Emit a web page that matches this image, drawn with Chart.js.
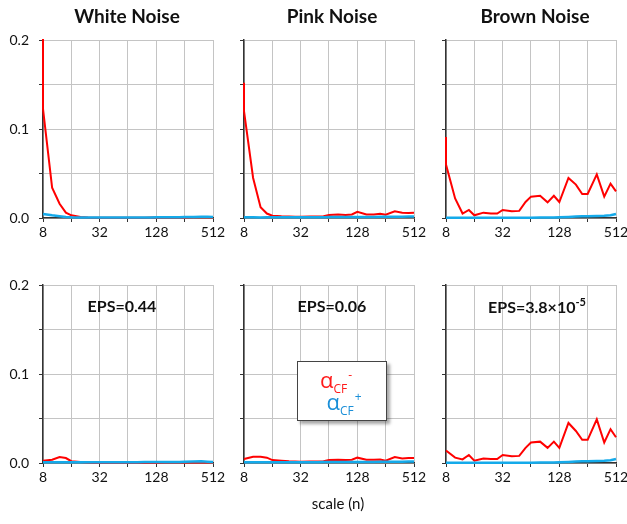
<!DOCTYPE html>
<html>
<head>
<meta charset="utf-8">
<script src="https://cdn.jsdelivr.net/npm/chart.js@4/dist/chart.umd.min.js"></script>
<style>
  body { margin: 0; background: #fff; }
  #wrap { position: relative; width: 627px; height: 524px; overflow: hidden; font-family: Lato, "Open Sans", sans-serif; color: #111; }
  canvas { position: absolute; }
  .title { position: absolute; top: 4px; width: 200px; margin-left: -100px; text-align: center; font-weight: bold; font-size: 19px; }
  .eps { position: absolute; top: 296px; width: 160px; margin-left: -80px; text-align: center; font-weight: bold; font-size: 16px; }
  .eps sup { font-size: 11px; position: relative; top: -1px; }
  #legend { position: absolute; left: 297px; top: 361px; width: 88px; height: 58px; border: 1px solid #444; background: #fff;
            box-shadow: 3px 3px 3px rgba(0,0,0,0.35); }
  #legend .ln { position: absolute; left: 0; width: 88px; text-align: center; font-family: "Open Sans", sans-serif; font-size: 22px; line-height: 22px; }
  #legend .sb, #legend .sp { font-size: 12px; position: relative; line-height: 0; }
  #legend .sb { top: 5px; }
  #legend .sp { top: -9px; margin-left: 1px; }
  #xlabel { position: absolute; left: 288px; top: 494px; width: 100px; text-align: center; font-size: 15px; }
</style>
</head>
<body>
<div id="wrap">
  <canvas id="c0" width="226" height="222" style="left:3px;top:20px"></canvas>
  <canvas id="c1" width="226" height="222" style="left:204px;top:20px"></canvas>
  <canvas id="c2" width="226" height="222" style="left:406px;top:20px"></canvas>
  <canvas id="c3" width="226" height="222" style="left:3px;top:265px"></canvas>
  <canvas id="c4" width="226" height="222" style="left:204px;top:265px"></canvas>
  <canvas id="c5" width="226" height="222" style="left:406px;top:265px"></canvas>

  <div class="title" style="left:127px">White Noise</div>
  <div class="title" style="left:332px">Pink Noise</div>
  <div class="title" style="left:535px">Brown Noise</div>

  <div class="eps" style="left:122px">EPS=0.44</div>
  <div class="eps" style="left:332px">EPS=0.06</div>
  <div class="eps" style="left:537px">EPS=3.8×10<sup>-5</sup></div>

  <div id="legend">
    <div class="ln" style="top:6px;color:#ff1a1a;margin-left:-6px">α<span class="sb">CF</span><span class="sp">-</span></div>
    <div class="ln" style="top:28px;color:#1a8fd8;margin-left:2px">α<span class="sb">CF</span><span class="sp">+</span></div>
  </div>

  <div id="xlabel">scale (n)</div>
</div>
<script>
// scale n (x axis, log2)
const scales = [8, 10, 12, 14, 16, 20, 24, 28, 32, 40, 48, 56, 64, 80, 96, 112, 128, 160, 192, 224, 256, 320, 384, 448, 512];
const xTicks = [8, 16, 32, 64, 128, 256, 512];
const xLabels = ['8', '32', '128', '512'];

// top row: first value of the red series runs off the top / down the axis at n=8
const whiteLead = 0.21;
const pinkLead = 0.152;
const brownLead = 0.091;

const whiteMinusTop = [0.1225, 0.034, 0.016, 0.006, 0.003, 0.0012, 0.0006, 0.0004, 0.0003, 0.0003, 0.0003, 0.0003, 0.0003, 0.0004, 0.0004, 0.0005, 0.0005, 0.0006, 0.0006, 0.0007, 0.0006, 0.0008, 0.0009, 0.0008, 0.0007];
const whitePlusTop = [0.0045, 0.003, 0.002, 0.0012, 0.0008, 0.0006, 0.0005, 0.0005, 0.0005, 0.0005, 0.0005, 0.0005, 0.0006, 0.0006, 0.0007, 0.0007, 0.0008, 0.0008, 0.0009, 0.0009, 0.001, 0.0012, 0.0015, 0.0013, 0.0012];

const pinkMinusTop = [0.12, 0.045, 0.012, 0.005, 0.0025, 0.002, 0.0018, 0.0015, 0.0015, 0.0016, 0.0018, 0.002, 0.0035, 0.004, 0.0034, 0.004, 0.007, 0.004, 0.004, 0.0048, 0.0038, 0.0075, 0.006, 0.0056, 0.006];
const pinkPlusTop = [0.0008, 0.0008, 0.0007, 0.0008, 0.0008, 0.0008, 0.0009, 0.0008, 0.0008, 0.0009, 0.0009, 0.0009, 0.001, 0.001, 0.001, 0.0011, 0.0011, 0.0012, 0.0012, 0.0013, 0.0013, 0.0014, 0.0015, 0.0016, 0.0018];

const brownMinusTop = [0.06, 0.022, 0.005, 0.009, 0.003, 0.006, 0.005, 0.005, 0.009, 0.0076, 0.008, 0.018, 0.024, 0.025, 0.0176, 0.025, 0.018, 0.045, 0.0375, 0.027, 0.027, 0.049, 0.024, 0.0386, 0.030];
const brownPlusTop = [0.0003, 0.0003, 0.0003, 0.0003, 0.0003, 0.0003, 0.0003, 0.0003, 0.0003, 0.0003, 0.0004, 0.0004, 0.0004, 0.0005, 0.0005, 0.0006, 0.0008, 0.0012, 0.0016, 0.0019, 0.002, 0.0022, 0.0025, 0.003, 0.0045];

// bottom row
const whiteMinusBot = [0.0026, 0.0037, 0.0067, 0.0056, 0.002, 0.001, 0.0006, 0.0004, 0.0003, 0.0003, 0.0003, 0.0003, 0.0003, 0.0003, 0.0004, 0.0004, 0.0004, 0.0005, 0.0005, 0.0006, 0.0005, 0.0006, 0.0007, 0.0006, 0.0005];
const whitePlusBot = [0.0008, 0.0008, 0.0008, 0.0008, 0.0008, 0.0008, 0.0008, 0.0008, 0.0008, 0.0008, 0.0009, 0.0009, 0.0009, 0.0009, 0.001, 0.001, 0.001, 0.001, 0.0011, 0.0012, 0.0014, 0.0018, 0.0019, 0.0015, 0.0012];

const pinkMinusBot = [0.0045, 0.007, 0.007, 0.006, 0.0033, 0.0026, 0.002, 0.0017, 0.0015, 0.0016, 0.0018, 0.002, 0.0033, 0.0037, 0.0034, 0.0036, 0.006, 0.0037, 0.0036, 0.004, 0.0026, 0.0067, 0.005, 0.0056, 0.0056];
const pinkPlusBot = [0.0008, 0.0008, 0.0008, 0.0008, 0.0008, 0.0008, 0.0008, 0.0008, 0.0009, 0.0009, 0.0009, 0.001, 0.001, 0.001, 0.001, 0.0011, 0.0011, 0.0012, 0.0012, 0.0013, 0.0013, 0.0014, 0.0015, 0.0016, 0.0018];

const brownMinusBot = [0.014, 0.006, 0.004, 0.009, 0.0026, 0.005, 0.0045, 0.0045, 0.009, 0.0075, 0.008, 0.017, 0.023, 0.024, 0.017, 0.024, 0.017, 0.045, 0.036, 0.026, 0.026, 0.049, 0.023, 0.038, 0.029];
const brownPlusBot = [0.0003, 0.0003, 0.0003, 0.0003, 0.0003, 0.0003, 0.0003, 0.0003, 0.0003, 0.0003, 0.0004, 0.0004, 0.0004, 0.0005, 0.0005, 0.0006, 0.0008, 0.0012, 0.0016, 0.0019, 0.002, 0.0022, 0.0025, 0.003, 0.0045];

const yTickLabels = ['0.0', '0.1', '0.2'];

const RED = '#ff0000';
const BLUE = '#14aaea';
const AXIS = '#333333';
const GRID = '#c4c4c4';
const tickFont = { family: 'Lato, "Open Sans", sans-serif', size: 14 };
const lineClip = { left: 2, top: 1, right: 1, bottom: 3 };

function toPoints(values, lead) {
    const pts = scales.map((x, i) => ({ x: x, y: values[i] }));
    if (lead !== null) pts.unshift({ x: scales[0], y: lead });
    return pts;
}

function makePanel(canvasId, minus, plus, lead, showY) {
    const ctx = document.getElementById(canvasId).getContext('2d');
    return new Chart(ctx, {
        type: 'line',
        data: {
            datasets: [
                {
                    label: 'alpha CF -',
                    data: toPoints(minus, lead),
                    borderColor: RED,
                    borderWidth: 2,
                    pointRadius: 0,
                    tension: 0,
                    clip: lineClip,
                    order: 1
                },
                {
                    label: 'alpha CF +',
                    data: toPoints(plus, null),
                    borderColor: BLUE,
                    borderWidth: 2.5,
                    pointRadius: 0,
                    tension: 0,
                    clip: lineClip,
                    order: 0
                }
            ]
        },
        options: {
            responsive: false,
            animation: false,
            layout: { padding: { top: 20, right: 16, left: 0, bottom: 0 } },
            plugins: {
                legend: { display: false },
                tooltip: { enabled: false },
                title: { display: false }
            },
            scales: {
                x: {
                    type: 'logarithmic',
                    min: 8,
                    max: 512,
                    afterBuildTicks: (scale) => { scale.ticks = xTicks.map(v => ({ value: v })); },
                    afterFit: (scale) => { scale.height = 24; },
                    border: { color: AXIS, width: 1.5 },
                    grid: {
                        color: GRID,
                        borderDash: [1, 1],
                        tickLength: 4,
                        tickColor: AXIS,
                        tickBorderDash: []
                    },
                    ticks: {
                        autoSkip: false,
                        maxRotation: 0,
                        padding: 2,
                        color: '#111',
                        font: tickFont,
                        callback: (v) => xLabels.includes(String(v)) ? String(v) : ''
                    }
                },
                y: {
                    min: 0,
                    max: 0.2,
                    afterFit: (scale) => { scale.width = 40; },
                    border: { color: AXIS, width: 1.5 },
                    grid: {
                        color: GRID,
                        borderDash: [1, 1],
                        tickLength: 4,
                        tickColor: AXIS,
                        tickBorderDash: []
                    },
                    ticks: {
                        stepSize: 0.05,
                        padding: 10,
                        color: '#111',
                        font: tickFont,
                        callback: (v) => {
                            if (!showY) return '';
                            const k = Math.round(v * 100);
                            return k % 10 === 0 ? yTickLabels[k / 10] : '';
                        }
                    }
                }
            }
        }
    });
}

makePanel('c0', whiteMinusTop, whitePlusTop, whiteLead, true);
makePanel('c1', pinkMinusTop, pinkPlusTop, pinkLead, false);
makePanel('c2', brownMinusTop, brownPlusTop, brownLead, false);
makePanel('c3', whiteMinusBot, whitePlusBot, null, true);
makePanel('c4', pinkMinusBot, pinkPlusBot, null, false);
makePanel('c5', brownMinusBot, brownPlusBot, null, false);
</script>
</body>
</html>
